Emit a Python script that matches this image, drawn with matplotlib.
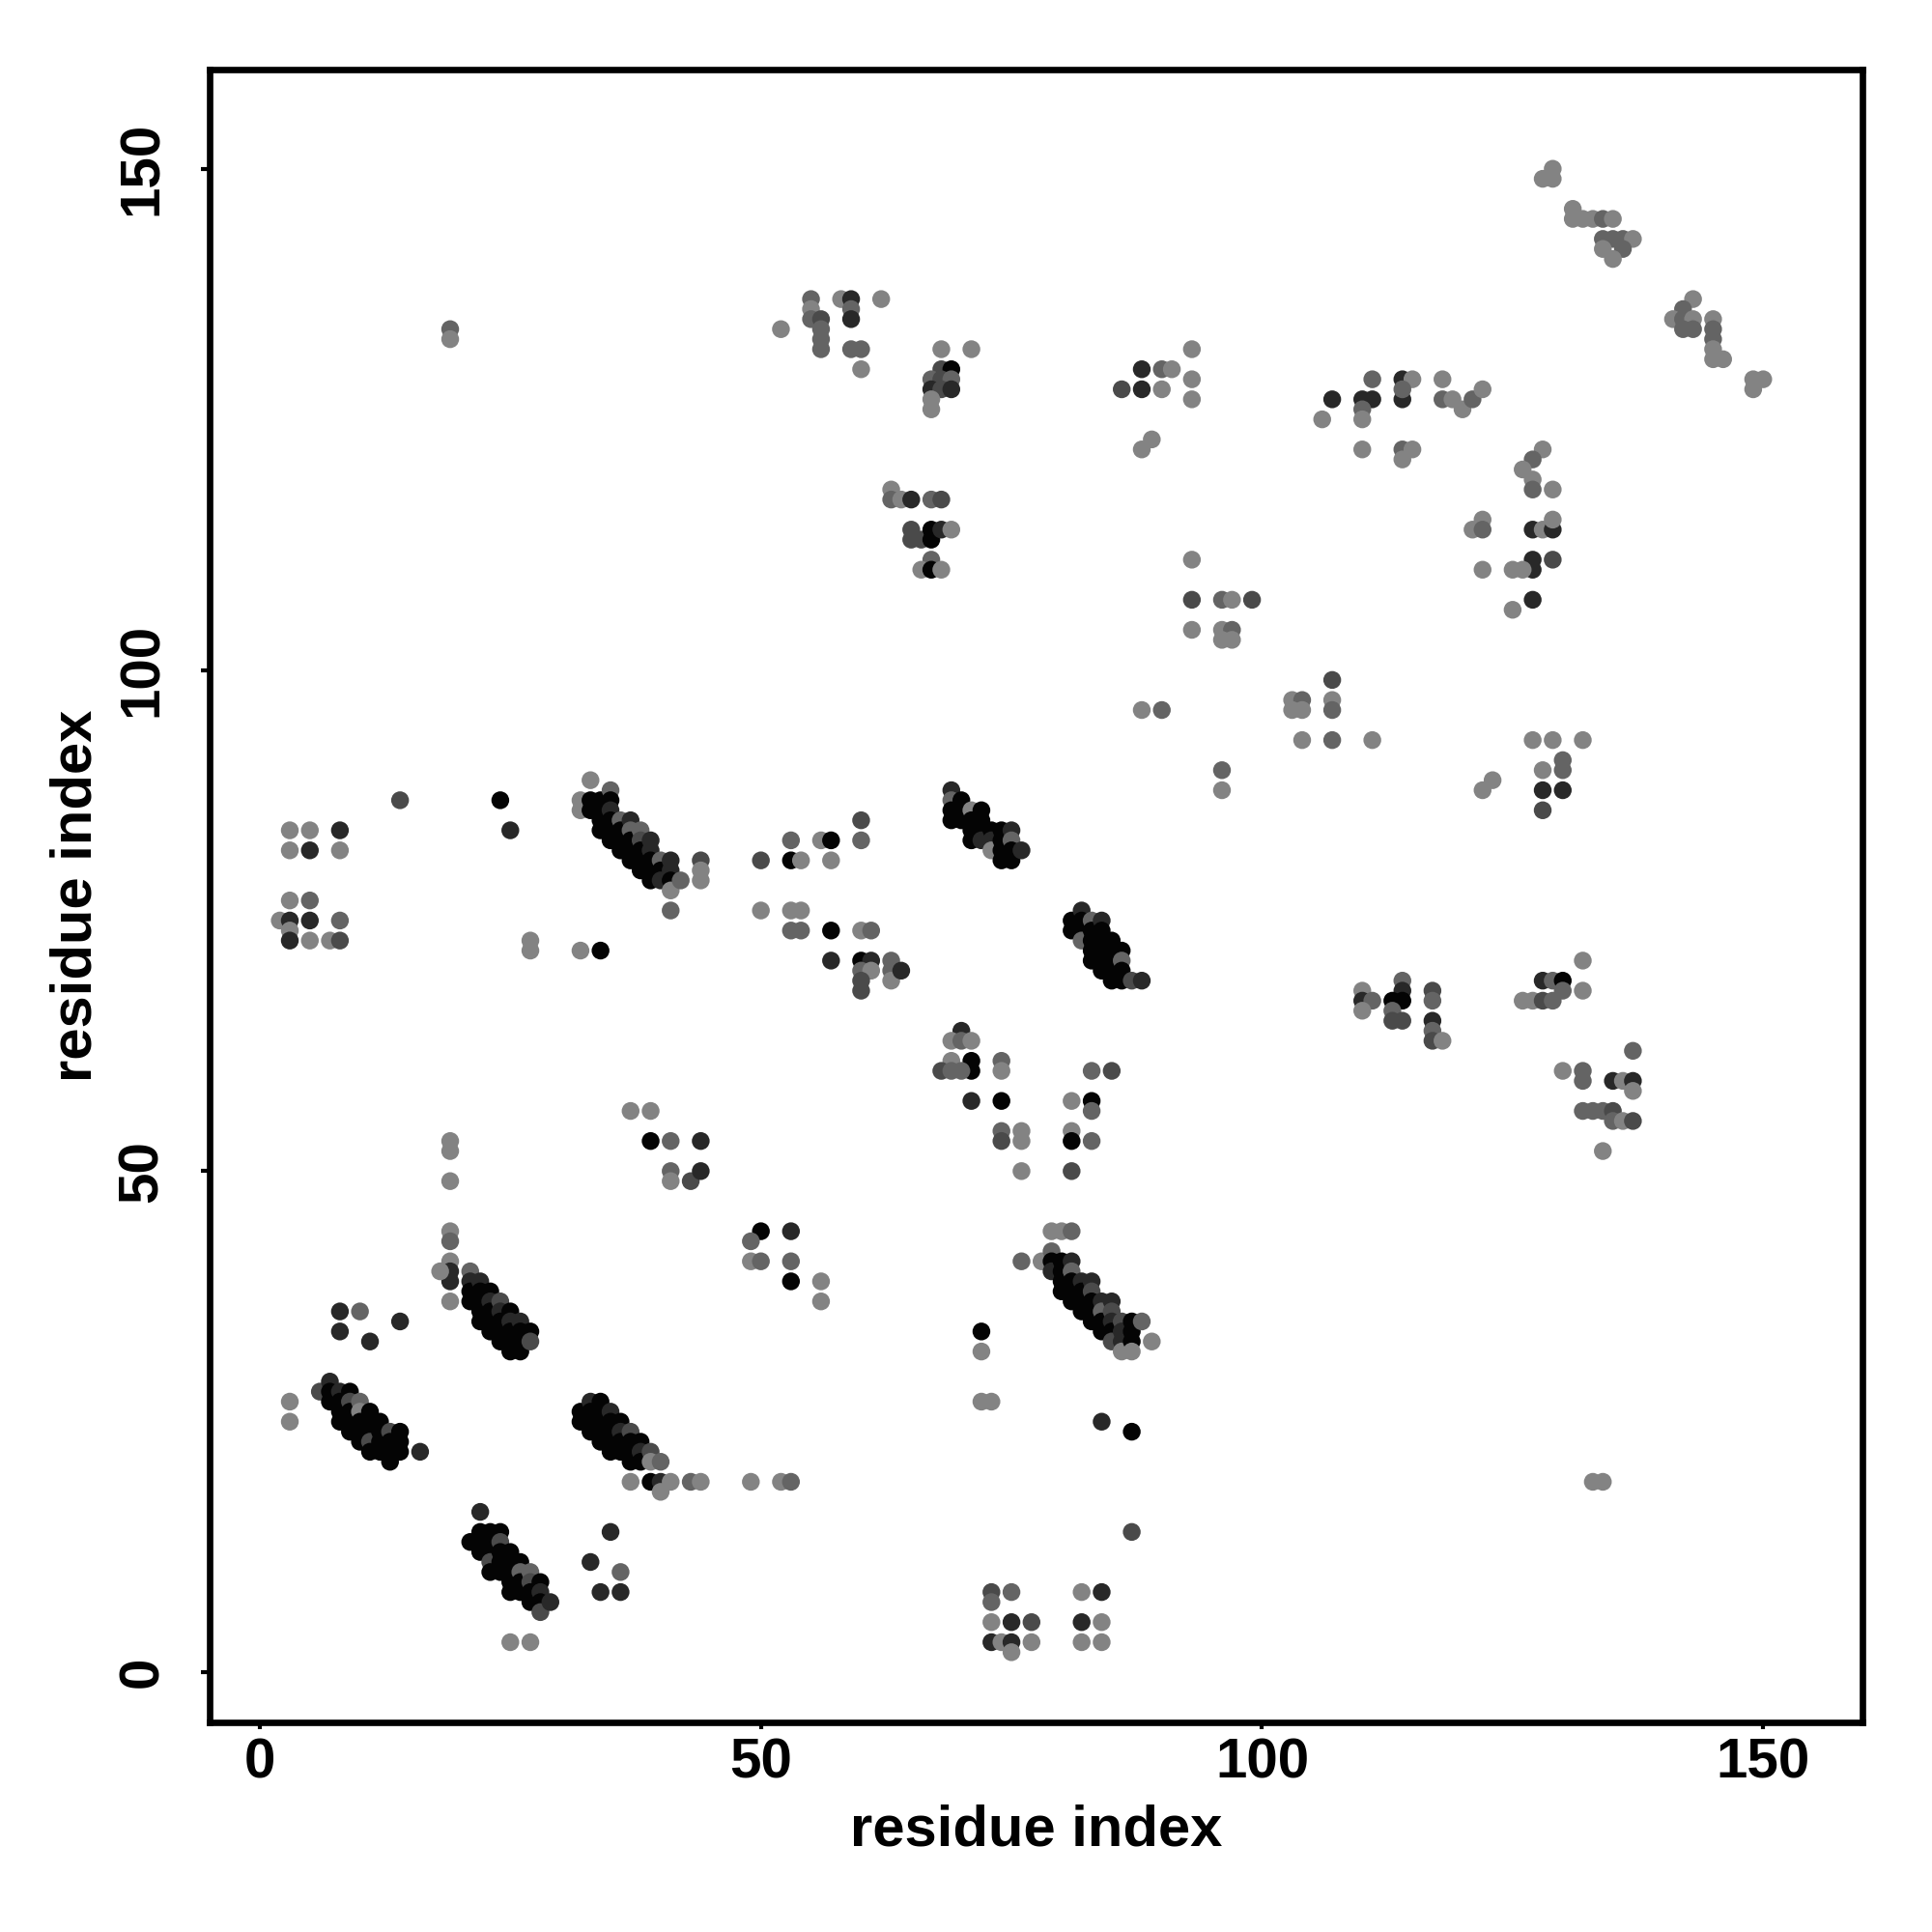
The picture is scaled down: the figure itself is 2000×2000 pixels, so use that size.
import numpy as np
import matplotlib
matplotlib.use("Agg")
import matplotlib.pyplot as plt

# --- contact data: (residue i, residue j, probability) -----------------------
# hairpins / strand pairings
col_19 = [(19,53,.08),(19,52,.08),(19,49,.08),(19,44,.08),(19,43,.3),(19,41,.08),
          (19,40,.72),(19,39,.72),(19,37,.08),(18,40,.08)]

sheet_a = [(21,40,.3),(21,39,.72),(21,38,.97),(21,37,.97),
           (22,39,.72),(22,38,.97),(22,37,.97),(22,36,.97),(22,35,.97),
           (23,38,.97),(23,37,.72),(23,36,.97),(23,35,.97),(23,34,.97),
           (24,37,.48),(24,36,.72),(24,35,.97),(24,34,.97),(24,33,.97),
           (25,36,.97),(25,35,.72),(25,34,.97),(25,33,.97),(25,32,.97),
           (26,35,.72),(26,34,.97),(26,33,.97),(26,32,.97),
           (27,34,.97),(27,33,.48)]

sheet_b = [(6,28,.48),(7,29,.72),(7,28,.97),(7,27,.97),
           (8,28,.72),(8,27,.97),(8,26,.97),(8,25,.97),
           (9,28,.97),(9,27,.48),(9,26,.97),(9,25,.97),(9,24,.97),
           (10,27,.3),(10,26,.08),(10,25,.97),(10,24,.97),(10,23,.97),
           (11,26,.97),(11,25,.97),(11,24,.97),(11,23,.48),(11,22,.97),
           (12,25,.97),(12,24,.97),(12,23,.97),(12,22,.97),
           (13,24,.48),(13,23,.97),(13,22,.97),(13,21,.97),
           (14,24,.97),(14,23,.97),(14,22,.97),
           (16,22,.72),(3,27,.08),(3,25,.08),
           (8,36,.72),(10,36,.3),(8,34,.72),(11,33,.72),(14,35,.72)]

sheet_c = [(32,26,.97),(32,25,.97),
           (33,27,.72),(33,26,.97),(33,25,.97),(33,24,.97),
           (34,27,.97),(34,26,.97),(34,25,.97),(34,24,.97),(34,23,.97),
           (35,26,.72),(35,25,.97),(35,24,.97),(35,23,.97),(35,22,.97),
           (36,25,.97),(36,24,.72),(36,23,.97),(36,22,.97),
           (37,24,.48),(37,23,.97),(37,22,.97),(37,21,.97),
           (38,23,.97),(38,22,.72),(38,21,.97),
           (39,22,.48),(39,21,.08),(40,21,.3),
           (37,19,.08),(39,19,.97),(40,19,.72),(41,19,.08),(43,19,.3),(44,19,.08),(40,18,.08),
           (35,14,.72),(33,11,.72),(36,10,.3),(34,8,.72),(36,8,.72)]

sheet_d = [(22,16,.72),(24,14,.97),(21,13,.97),
           (22,14,.97),(22,13,.97),(22,12,.97),
           (23,14,.97),(23,13,.97),(23,12,.97),(23,11,.48),(23,10,.97),
           (24,13,.48),(24,12,.97),(24,11,.97),(24,10,.97),
           (25,12,.97),(25,11,.97),(25,10,.97),(25,9,.97),(25,8,.97),
           (26,11,.97),(26,10,.3),(26,9,.97),(26,8,.97),
           (27,10,.3),(27,9,.48),(27,8,.97),(27,7,.97),
           (28,9,.97),(28,8,.72),(28,7,.97),(28,6,.48),(29,7,.72),
           (25,3,.08),(27,3,.08)]

mid_low = [(50,44,.97),(53,44,.72),(49,43,.3),(49,41,.08),(50,41,.3),(53,41,.3),
           (53,39,.97),(56,39,.08),(56,37,.08),
           (49,19,.08),(52,19,.08),(53,19,.3),
           (72,34,.97),(72,32,.08),(72,27,.08),(73,27,.08),
           (84,25,.72),(87,24,.97),(87,14,.48),
           (73,8,.48),(73,7,.3),(75,8,.3),(73,5,.08),(75,5,.72),(77,5,.48),
           (73,3,.72),(74,3,.08),(75,3,.72),(77,3,.08),(75,2,.08),
           (82,8,.08),(84,8,.72),(82,5,.72),(84,5,.08),(82,3,.08),(84,3,.08)]

sheet_e = [(79,44,.08),(80,44,.08),(81,44,.3),(76,41,.3),(78,41,.08),
           (79,42,.3),(79,41,.97),(79,40,.72),
           (80,41,.97),(80,40,.97),(80,39,.97),(80,38,.97),
           (81,41,.72),(81,40,.3),(81,39,.97),(81,38,.97),(81,37,.97),
           (82,39,.72),(82,38,.97),(82,37,.97),(82,36,.97),
           (83,39,.72),(83,38,.48),(83,37,.97),(83,36,.97),(83,35,.97),
           (84,37,.72),(84,36,.3),(84,35,.97),(84,34,.97),
           (85,37,.72),(85,36,.48),(85,35,.72),(85,34,.97),(85,33,.48),
           (86,35,.48),(86,34,.72),(86,33,.72),(86,32,.08),
           (87,35,.97),(87,34,.97),(87,33,.97),(87,32,.08),
           (88,35,.3),(89,33,.08)]

mid_block = [(60,85,.48),(60,83,.3),(53,83,.3),(56,83,.08),(57,83,.97),
             (50,81,.48),(53,81,.97),(54,81,.08),(57,81,.08),
             (50,76,.08),(53,76,.08),(54,76,.08),(53,74,.3),(54,74,.3),(57,74,.97),
             (60,74,.08),(61,74,.3),
             (57,71,.72),(60,71,.97),(61,71,.72),(60,70,.3),(61,70,.08),(60,69,.48),
             (60,68,.48),(63,71,.3),(63,70,.3),(63,69,.08),(64,70,.72)]

sheet_f = [(69,88,.72),(69,87,.3),(69,86,.97),(69,85,.97),
           (70,87,.97),(70,86,.97),(70,85,.97),
           (71,86,.08),(71,85,.97),(71,84,.97),(71,83,.97),
           (72,86,.97),(72,85,.97),(72,84,.97),(72,83,.72),
           (73,84,.97),(73,83,.72),(73,82,.08),
           (74,84,.97),(74,83,.97),(74,82,.97),(74,81,.97),
           (75,84,.72),(75,83,.3),(75,82,.97),(75,81,.97),(76,82,.72)]

sheet_g = [(81,75,.97),(81,74,.97),
           (82,76,.72),(82,75,.97),(82,74,.97),(82,73,.3),
           (83,75,.3),(83,74,.97),(83,73,.97),(83,72,.97),(83,71,.97),
           (84,75,.72),(84,74,.97),(84,73,.97),(84,72,.97),(84,71,.97),(84,70,.97),
           (85,73,.97),(85,72,.97),(85,71,.97),(85,70,.97),(85,69,.97),
           (86,72,.97),(86,71,.3),(86,70,.97),(86,69,.97),
           (87,69,.48),(88,69,.72)]

mid_scatter = [(70,64,.72),(69,63,.08),(70,63,.3),(71,63,.08),(69,61,.08),(71,61,.97),
               (71,60,.97),(68,60,.48),(69,60,.3),(70,60,.3),(74,61,.3),(74,60,.08),
               (71,57,.72),(74,57,.97),
               (74,54,.3),(74,53,.48),(76,54,.08),(76,53,.08),(76,50,.08),
               (83,60,.3),(85,60,.48),(81,57,.08),(83,57,.97),(83,56,.3),
               (81,54,.08),(81,53,.97),(83,53,.3),(81,50,.48)]

left_upper = [(14,87,.48),(24,87,.97),(25,84,.72),
              (3,84,.08),(5,84,.08),(8,84,.72),(3,82,.08),(5,82,.72),(8,82,.08),
              (3,77,.08),(5,77,.3),(2,75,.08),(3,75,.72),(5,75,.72),(8,75,.3),
              (3,74,.08),(3,73,.72),(5,73,.08),(7,73,.08),(8,73,.48),
              (27,73,.08),(27,72,.08),(32,72,.08),(34,72,.97),
              (37,56,.08),(39,56,.08),(39,53,.97),(41,53,.3),(44,53,.72),
              (41,50,.3),(41,49,.08),(43,49,.48),(44,50,.72)]

sheet_h = [(33,89,.08),(32,87,.08),(32,86,.08),(33,87,.97),(33,86,.97),
           (34,87,.97),(34,86,.97),(34,85,.97),(34,84,.97),
           (35,88,.3),(35,87,.97),(35,86,.72),(35,85,.97),(35,84,.97),(35,83,.97),
           (36,85,.3),(36,84,.97),(36,83,.97),(36,82,.97),
           (37,85,.72),(37,84,.3),(37,83,.97),(37,82,.97),(37,81,.97),
           (38,84,.3),(38,83,.48),(38,82,.97),(38,81,.97),(38,80,.97),
           (39,83,.72),(39,82,.72),(39,81,.97),(39,80,.97),(39,79,.97),
           (40,81,.3),(40,80,.97),(40,79,.72),
           (41,81,.72),(41,80,.72),(41,79,.97),(41,78,.08),(41,76,.3),(42,79,.3),
           (44,81,.48),(44,80,.08),(44,79,.08)]

top_mid = [(19,134,.3),(19,133,.08),(52,134,.08),
           (55,137,.3),(55,136,.08),(55,135,.3),(56,135,.48),(56,134,.3),(56,133,.3),(56,132,.3),
           (58,137,.08),(59,137,.72),(59,136,.3),(59,135,.72),(62,137,.08),
           (59,132,.3),(60,132,.3),(60,130,.08),(68,132,.08),(71,132,.08),
           (68,130,.48),(69,130,.97),(67,129,.3),(68,129,.48),(69,129,.3),
           (67,128,.72),(68,128,.48),(69,128,.72),(67,127,.08),(67,126,.08),
           (63,118,.08),(63,117,.3),(64,117,.08),(65,117,.72),(67,117,.3),(68,117,.48),
           (65,114,.48),(65,113,.48),(66,113,.48),(67,114,.97),(67,113,.97),(68,114,.72),
           (69,114,.08),(67,111,.3),(66,110,.08),(67,110,.97),(68,110,.08)]

top_right = [(129,150,.08),(128,149,.08),(129,149,.08),
             (131,146,.08),(131,145,.08),(132,145,.08),(133,145,.08),(134,145,.3),(135,145,.08),
             (134,143,.3),(135,143,.3),(136,143,.3),(137,143,.08),(134,142,.08),(136,142,.3),
             (135,141,.08),
             (143,137,.08),(142,136,.3),(141,135,.08),(142,135,.3),(143,135,.08),(142,134,.3),
             (143,134,.3),(145,135,.08),(145,134,.3),(145,133,.3),(145,132,.08),(145,131,.08),
             (146,131,.08),(149,129,.08),(150,129,.08),(149,128,.08)]

upper_c = [(93,132,.08),(88,130,.72),(90,130,.3),(91,130,.08),(86,128,.48),(88,128,.72),
           (90,128,.08),(93,129,.08),(93,127,.08),(89,123,.08),(88,122,.08),
           (111,129,.3),(114,129,.72),(115,129,.08),(107,127,.72),(110,127,.72),(111,127,.72),
           (114,127,.72),(114,128,.3),(110,126,.3),(110,125,.08),(106,125,.08),
           (118,129,.08),(118,127,.3),(119,127,.08),(120,126,.08),(121,127,.3),(122,128,.08),
           (110,122,.08),(114,122,.3),(115,122,.08),(114,121,.08),(128,122,.08),(127,121,.3),
           (126,120,.08),(127,119,.08),(127,118,.3),(129,118,.08),
           (122,115,.08),(121,114,.08),(122,114,.3),
           (127,114,.72),(128,114,.08),(129,114,.72),(129,115,.08),
           (127,111,.72),(129,111,.48),(127,110,.72),(125,110,.08),(126,110,.08),(122,110,.08),
           (127,107,.72),(125,106,.08)]

upper_d = [(93,111,.08),(93,107,.48),(96,107,.3),(97,107,.08),(99,107,.48),
           (93,104,.08),(96,104,.08),(97,104,.3),(96,103,.08),(97,103,.08),
           (88,96,.08),(90,96,.3),
           (107,99,.48),(103,97,.08),(104,97,.3),(103,96,.08),(104,96,.08),(107,97,.08),
           (107,96,.3),(104,93,.08),(107,93,.3),(111,93,.08),(96,90,.3),(96,88,.08),
           (127,93,.08),(129,93,.08),(132,93,.08),(130,91,.3),(130,90,.3),(128,90,.08),
           (128,88,.72),(130,88,.72),(128,86,.48),(123,89,.08),(122,88,.08)]

right_low = [(110,68,.08),(110,67,.72),(111,67,.3),(110,66,.08),
             (114,69,.3),(114,68,.72),(113,67,.97),(114,67,.97),(113,66,.3),(113,65,.48),
             (114,65,.48),(117,68,.48),(117,67,.3),(117,65,.72),(117,64,.3),(117,63,.48),
             (118,63,.08),
             (132,71,.08),(132,68,.08),(128,69,.72),(129,69,.3),(130,69,.97),(130,68,.3),
             (126,67,.08),(127,67,.08),(128,67,.48),(129,67,.3),
             (137,62,.3),(130,60,.08),(132,60,.3),(132,59,.3),(135,59,.72),(136,59,.08),
             (137,59,.72),(137,58,.08),(132,56,.3),(133,56,.3),(134,56,.3),(135,56,.48),
             (135,55,.3),(136,55,.08),(137,55,.48),(134,52,.08),
             (133,19,.08),(134,19,.08)]

clusters = [col_19, sheet_a, sheet_b, sheet_c, sheet_d, mid_low, sheet_e, mid_block,
            sheet_f, sheet_g, mid_scatter, left_upper, sheet_h, top_mid, top_right,
            upper_c, upper_d, right_low]

ticks = [0, 50, 100, 150]

# --- plot -------------------------------------------------------------------
plt.rcParams['font.family'] = ['Liberation Sans', 'DejaVu Sans']
plt.rcParams['font.weight'] = 'bold'

fig = plt.figure(figsize=(10, 10), dpi=200)
ax = fig.add_axes([0.1085, 0.1085, 0.8555, 0.8555])

pts = np.array([p for c in clusters for p in c], dtype=float)
# probability -> grey level (1 = black)
grey = 0.56 * (1 - pts[:, 2])
cols = np.repeat(grey[:, None], 3, axis=1)
ax.scatter(pts[:, 0], pts[:, 1], c=cols, s=44, linewidths=0, zorder=2)

ax.set_xlim(-5.0, 159.9)
ax.set_ylim(-5.0, 159.9)
ax.set_xticks(ticks)
ax.set_yticks(ticks)
ax.set_xticklabels([str(t) for t in ticks], fontsize=21, fontweight='bold')
ax.set_yticklabels([str(t) for t in ticks], fontsize=21, fontweight='bold',
                   rotation=90, va='center')
ax.tick_params(axis='x', length=2.5, width=1.5, pad=3)
ax.tick_params(axis='y', length=3.2, width=1.5, pad=12)
for s in ax.spines.values():
    s.set_linewidth(2.4)

ax.set_xlabel('residue index', fontsize=21.5, fontweight='bold', labelpad=5.5)
ax.set_ylabel('residue index', fontsize=21.5, fontweight='bold', labelpad=5)

fig.savefig('out.png', dpi=200)
